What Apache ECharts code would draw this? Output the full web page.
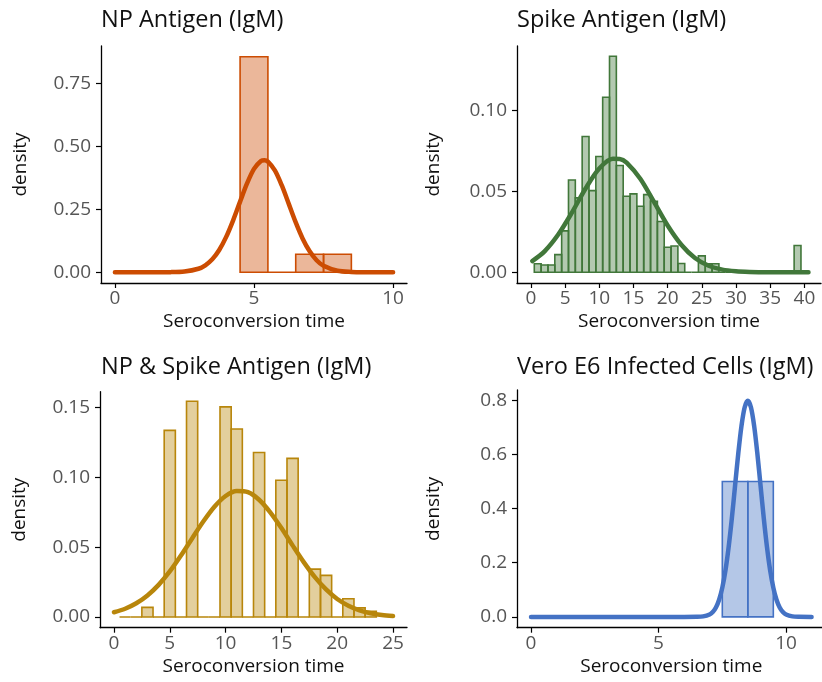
<!DOCTYPE html>
<html>
<head>
<meta charset="utf-8">
<script src="https://cdn.jsdelivr.net/npm/echarts@6/dist/echarts.min.js"></script>
<style>
html,body{margin:0;padding:0;background:#fff;}
#chart{width:822px;height:682px;}
</style>
</head>
<body>
<div id="chart"></div>
<script>
// ---------- data ----------
const titles = ['NP Antigen (IgM)', 'Spike Antigen (IgM)', 'NP & Spike Antigen (IgM)', 'Vero E6 Infected Cells (IgM)'];
const xName = 'Seroconversion time';
const yName = 'density';

// histogram bins (centres, binwidth 1) and densities
const npBins = [5, 6, 7, 8];
const npDensity = [0.857, 0, 0.0714, 0.0714];

const spikeBins = [1,2,3,4,5,6,7,8,9,10,11,12,13,14,15,16,17,18,19,20,21,22,23,24,25,26,27,28,29,30,31,32,33,34,35,36,37,38,39];
const spikeDensity = [0.0052,0.0045,0.0045,0.0109,0.0256,0.0571,0.0460,0.0840,0.0505,0.0716,0.1083,0.1337,0.0660,0.0470,0.0485,0.0408,0.0480,0.0439,0.0314,0.0155,0.0162,0.0054,0,0,0.0101,0.0052,0.0052,0,0,0,0,0,0,0,0,0,0,0,0.0165];

const npsBins = [1,2,3,4,5,6,7,8,9,10,11,12,13,14,15,16,17,18,19,20,21,22,23];
const npsDensity = [0,0,0.0069,0,0.1337,0,0.1546,0,0,0.1505,0.1347,0,0.1178,0,0.0980,0.1136,0,0.0343,0.0298,0,0.0131,0.0065,0.0040];

const veroBins = [8, 9];
const veroDensity = [0.5, 0.5];

// fitted density curves
const npCurveX = [0,1,2,2.5,3,3.25,3.5,3.75,4,4.25,4.5,4.75,5,5.25,5.375,5.5,5.75,6,6.25,6.5,6.75,7,7.25,7.5,8,8.5,9,10];
const npCurveY = [0,0,0.0004,0.0027,0.0138,0.0277,0.0514,0.0884,0.1405,0.2065,0.2809,0.3533,0.4111,0.4423,0.4457,0.4403,0.4053,0.3452,0.2718,0.1980,0.1335,0.0832,0.0479,0.0256,0.0058,0.0010,0.0001,0];

const spikeCurveX = [0.2,2,4,6,8,10,12,13,14,16,18,20,22,24,26,28,30,32,34,36,38,40.6];
const spikeCurveY = [0.0069,0.0129,0.0233,0.0369,0.0518,0.0642,0.0702,0.0701,0.0678,0.0578,0.0435,0.0289,0.0170,0.0088,0.0040,0.0016,0.0006,0.0002,0.00005,0,0,0];

const npsCurveX = [0,1,2,3,4,5,6,7,8,9,10,11,12,13,14,15,16,17,18,19,20,21,22,23,24,25];
const npsCurveY = [0.0034,0.0059,0.0098,0.0154,0.0230,0.0326,0.0440,0.0563,0.0684,0.0790,0.0867,0.0903,0.0894,0.0840,0.0750,0.0637,0.0513,0.0393,0.0285,0.0197,0.0129,0.0081,0.0048,0.0027,0.0014,0.0007];

const veroCurveX = [0,2,4,6,6.5,6.75,7,7.125,7.25,7.375,7.5,7.625,7.75,7.875,8,8.125,8.25,8.375,8.5,8.625,8.75,8.875,9,9.125,9.25,9.375,9.5,9.625,9.75,9.875,10,10.25,10.5,11];
const veroCurveY = [0,0,0,0,0.0003,0.0018,0.0089,0.0182,0.0350,0.0635,0.1080,0.1726,0.2591,0.3653,0.4839,0.6023,0.7041,0.7733,0.7979,0.7733,0.7041,0.6023,0.4839,0.3653,0.2591,0.1726,0.1080,0.0635,0.0350,0.0182,0.0089,0.0018,0.0003,0];

// tick labels
const npXTicks = [0, 5, 10];
const npYTicks = [0, 0.25, 0.5, 0.75];
const spikeXTicks = [0, 5, 10, 15, 20, 25, 30, 35, 40];
const spikeYTicks = [0, 0.05, 0.10];
const npsXTicks = [0, 5, 10, 15, 20, 25];
const npsYTicks = [0, 0.05, 0.10, 0.15];
const veroXTicks = [0, 5, 10];
const veroYTicks = [0, 0.2, 0.4, 0.6, 0.8];

// ---------- styling / layout ----------
const colors = ['#CC4C02', '#41773A', '#B8860B', '#4472C4'];
function fillOf(hex) {
  const r = parseInt(hex.slice(1,3),16), g = parseInt(hex.slice(3,5),16), b = parseInt(hex.slice(5,7),16);
  return 'rgba(' + r + ',' + g + ',' + b + ',0.4)';
}
const FONT = '"Open Sans"';
const panels = [
  {grid:{left:101, top:46, width:306, height:237}, x:[-0.5,10.5], y:[-0.04285,0.9], xt:npXTicks, yt:npYTicks, dec:2, bins:npBins, dens:npDensity, cx:npCurveX, cy:npCurveY, yGap:71, tl:101, tt:8},
  {grid:{left:517, top:46, width:304, height:237}, x:[-2.03,42.43], y:[-0.00667,0.14], xt:spikeXTicks, yt:spikeYTicks, dec:2, bins:spikeBins, dens:spikeDensity, cx:spikeCurveX, cy:spikeCurveY, yGap:74, tl:517, tt:8},
  {grid:{left:100, top:391.7, width:307, height:236}, x:[-1.25,26.25], y:[-0.00768,0.1614], xt:npsXTicks, yt:npsYTicks, dec:2, bins:npsBins, dens:npsDensity, cx:npsCurveX, cy:npsCurveY, yGap:71, tl:101, tt:355},
  {grid:{left:517, top:390, width:308.6, height:237.7}, x:[-0.55,11.55], y:[-0.0399,0.8378], xt:veroXTicks, yt:veroYTicks, dec:1, bins:veroBins, dens:veroDensity, cx:veroCurveX, cy:veroCurveY, yGap:74, tl:517, tt:355}
];

const option = {
  animation: false,
  backgroundColor: '#fff',
  title: [], grid: [], xAxis: [], yAxis: [], series: []
};

panels.forEach((p, i) => {
  const col = colors[i];
  option.title.push({
    text: titles[i], left: p.tl, top: p.tt, padding: 0,
    textStyle: {fontFamily: FONT, fontSize: 23.5, fontWeight: 'normal', color: '#111'}
  });
  option.grid.push(Object.assign({containLabel:false, outerBoundsMode:'none'}, p.grid));
  option.xAxis.push({
    gridIndex: i, type: 'value', min: p.x[0], max: p.x[1],
    axisLine: {onZero: false, lineStyle: {color: '#000', width: 1.3}},
    axisTick: {length: 5, lineStyle: {color: '#000', width: 1.2}, customValues: p.xt},
    axisLabel: {customValues: p.xt, color: '#555', fontFamily: FONT, fontSize: 19, margin: 6,
      formatter: v => String(Math.round(v))},
    splitLine: {show: false},
    name: xName, nameLocation: 'middle', nameGap: 29,
    nameTextStyle: {color: '#111', fontFamily: FONT, fontSize: 19}
  });
  option.yAxis.push({
    gridIndex: i, type: 'value', min: p.y[0], max: p.y[1],
    axisLine: {onZero: false, lineStyle: {color: '#000', width: 1.3}},
    axisTick: {length: 5, lineStyle: {color: '#000', width: 1.2}, customValues: p.yt},
    axisLabel: {customValues: p.yt, color: '#555', fontFamily: FONT, fontSize: 19, margin: 10,
      formatter: v => v.toFixed(p.dec)},
    splitLine: {show: false},
    name: yName, nameLocation: 'middle', nameGap: p.yGap, nameRotate: 90,
    nameTextStyle: {color: '#111', fontFamily: FONT, fontSize: 19}
  });
  const fill = fillOf(col);
  option.series.push({
    type: 'custom', xAxisIndex: i, yAxisIndex: i, z: 2,
    encode: {x: 0, y: 1},
    data: p.bins.map((b, k) => [b, p.dens[k]]),
    renderItem: function (params, api) {
      const c = api.value(0), h = api.value(1);
      const a = api.coord([c - 0.5, h]);
      const b = api.coord([c + 0.5, 0]);
      return {
        type: 'rect',
        shape: {x: a[0], y: a[1], width: b[0] - a[0], height: b[1] - a[1]},
        style: {fill: fill, stroke: col, lineWidth: 1.6}
      };
    }
  });
  option.series.push({
    type: 'line', xAxisIndex: i, yAxisIndex: i, z: 3,
    data: p.cx.map((x, k) => [x, p.cy[k]]),
    showSymbol: false, symbol: 'none', smooth: 0.3,
    lineStyle: {color: col, width: 4.5, cap: 'round', join: 'round'}
  });
});

const chart = echarts.init(document.getElementById('chart'), null, {renderer: 'canvas'});
chart.setOption(option);
</script>
</body>
</html>
